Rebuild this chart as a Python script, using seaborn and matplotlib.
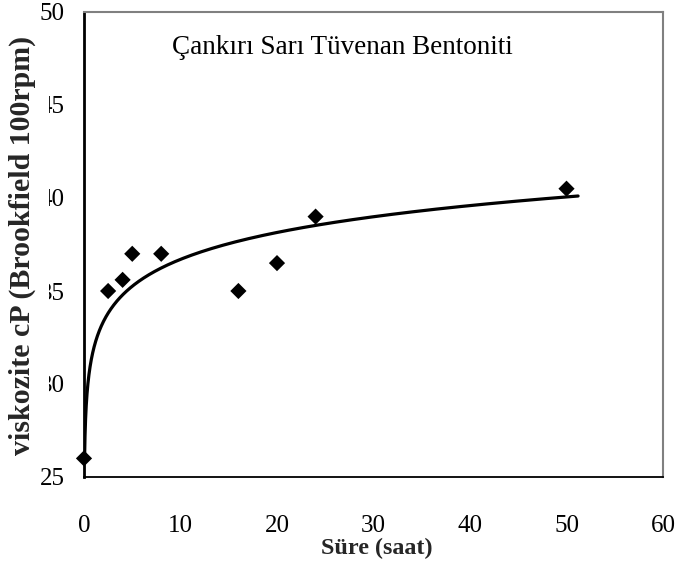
import numpy as np
import pandas as pd
import matplotlib
matplotlib.use("Agg")
import matplotlib.pyplot as plt
import seaborn as sns

# ---- data ----
hours = [0, 2.5, 4, 5, 8, 16, 20, 24, 50]
viscosity = [26.0, 35.0, 35.6, 37.0, 37.0, 35.0, 36.5, 39.0, 40.5]
x_ticks = [0, 10, 20, 30, 40, 50, 60]
y_ticks = [25, 30, 35, 40, 45, 50]
title_text = "Çankırı Sarı Tüvenan Bentoniti"
x_label = "Süre (saat)"
y_label = "viskozite cP (Brookfield 100rpm)"
# logarithmic trendline (Excel style); first sample taken at ~0.1 h for the fit
trend_first_hour = 0.1
trend_range = (0.06, 51.2)

sns.set_theme(style="white")
plt.rcParams["font.family"] = ["Liberation Serif", "DejaVu Serif"]

fig = plt.figure(figsize=(6.79, 5.62), dpi=100)
ax = fig.add_axes([84 / 679, 1 - 477 / 562, (663 - 84) / 679, (477 - 12) / 562])

df = pd.DataFrame({"hours": hours, "viscosity": viscosity})

# fit y = a*ln(x) + b
fit_x = np.array([trend_first_hour if h == 0 else h for h in hours], dtype=float)
a, b = np.polyfit(np.log(fit_x), np.array(viscosity), 1)
tx = np.geomspace(trend_range[0], trend_range[1], 400)
trend = pd.DataFrame({"hours": tx, "viscosity": a * np.log(tx) + b})

sns.lineplot(data=trend, x="hours", y="viscosity", ax=ax, color="black",
             linewidth=2.3, estimator=None, sort=True, zorder=2)
sns.scatterplot(data=df, x="hours", y="viscosity", ax=ax, marker="D", s=68,
                color="black", edgecolor="none", zorder=3, clip_on=False)

ax.set_xlim(0, 60)
ax.set_ylim(25, 50)
ax.set_xticks(x_ticks)
ax.set_yticks(y_ticks)
ax.set_xticklabels([str(v) for v in x_ticks])
ax.set_yticklabels([str(v) for v in y_ticks])

ax.tick_params(axis="both", which="major", direction="out",
               width=1, color="black", labelsize=18, labelcolor="black")
ax.tick_params(axis="x", length=7, pad=20)
ax.tick_params(axis="y", length=6, pad=8)

for side in ["left", "bottom"]:
    ax.spines[side].set_color("black")
ax.spines["left"].set_linewidth(2.0)
ax.spines["bottom"].set_linewidth(1.3)
for side in ["top", "right"]:
    ax.spines[side].set_color("#808080")
    ax.spines[side].set_linewidth(1.5)

ax.set_xlabel(x_label, fontsize=17.4, fontweight="bold", va="center")
ax.xaxis.set_label_coords(0.505, -0.153)
ax.set_ylabel(y_label, fontsize=21.5, fontweight="bold", va="center",
              bbox=dict(facecolor="white", edgecolor="none", pad=9.5))
ax.yaxis.set_label_coords(-0.107, 0.499)

ax.text(0.447, 0.923, title_text, transform=ax.transAxes, fontsize=19.5,
        ha="center", va="center", color="black")

fig.savefig("out.png", dpi=100)
